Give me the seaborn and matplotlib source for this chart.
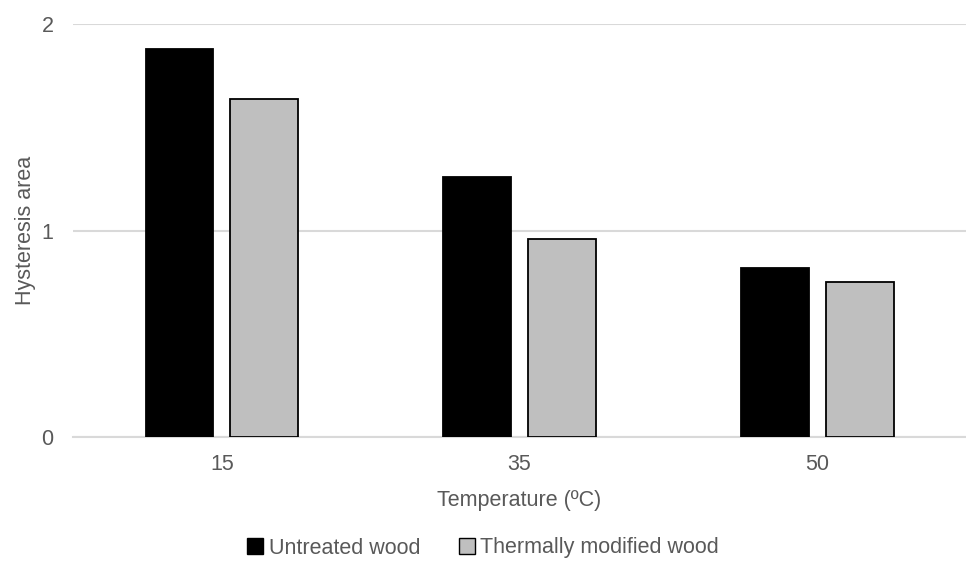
import matplotlib
matplotlib.use("Agg")
import matplotlib.pyplot as plt
import seaborn as sns
import pandas as pd

# Hysteresis area at each test temperature
temperatures = ["15", "35", "50"]
untreated = [1.88, 1.26, 0.82]
thermally_modified = [1.64, 0.96, 0.75]
series_names = ["Untreated wood", "Thermally modified wood"]

df = pd.DataFrame({
    "Temperature": temperatures * 2,
    "Hysteresis area": untreated + thermally_modified,
    "Wood": [series_names[0]] * 3 + [series_names[1]] * 3,
})

sns.set_theme(style="white")
plt.rcParams["font.family"] = ["Liberation Sans", "DejaVu Sans"]

text_color = "#595959"
grid_color = "#D9D9D9"

fig = plt.figure(figsize=(9.66, 5.67), dpi=100)
ax = fig.add_axes([0.0756, 0.2287, 0.9244, 0.7284])

sns.barplot(
    data=df, x="Temperature", y="Hysteresis area", hue="Wood",
    order=temperatures, hue_order=series_names,
    palette=["#000000", "#BFBFBF"], width=0.57, gap=0.2,
    edgecolor="#000000", linewidth=1.3, ax=ax, legend=False, zorder=3,
)

ax.set_ylim(0, 2)
ax.set_yticks([0, 1, 2])
ax.set_yticklabels(["0", "1", "2"])
ax.yaxis.grid(True, color=grid_color, linewidth=1.5, zorder=0)
ax.xaxis.grid(False)
for side in ["top", "right", "left"]:
    ax.spines[side].set_visible(False)
ax.spines["bottom"].set_color(grid_color)
ax.spines["bottom"].set_linewidth(1.5)
ax.tick_params(axis="both", length=0, labelsize=15.5, labelcolor=text_color)
ax.tick_params(axis="y", pad=14)
ax.tick_params(axis="x", pad=12)

ax.set_xlabel("Temperature (ºC)", fontsize=15.5, color=text_color, labelpad=11)
ax.set_ylabel("Hysteresis area", fontsize=15.5, color=text_color, labelpad=4)

handles = [
    plt.Rectangle((0, 0), 1, 1, facecolor="#000000", edgecolor="#000000", linewidth=1.0),
    plt.Rectangle((0, 0), 1, 1, facecolor="#BFBFBF", edgecolor="#000000", linewidth=1.0),
]
leg = fig.legend(
    handles, series_names, loc="center", bbox_to_anchor=(0.5, 1 - 548 / 567),
    ncol=2, frameon=False, fontsize=15.5, handlelength=0.75, handleheight=0.75,
    handletextpad=0.25, columnspacing=1.8,
)
for t in leg.get_texts():
    t.set_color(text_color)

fig.savefig("out.png", dpi=100)
